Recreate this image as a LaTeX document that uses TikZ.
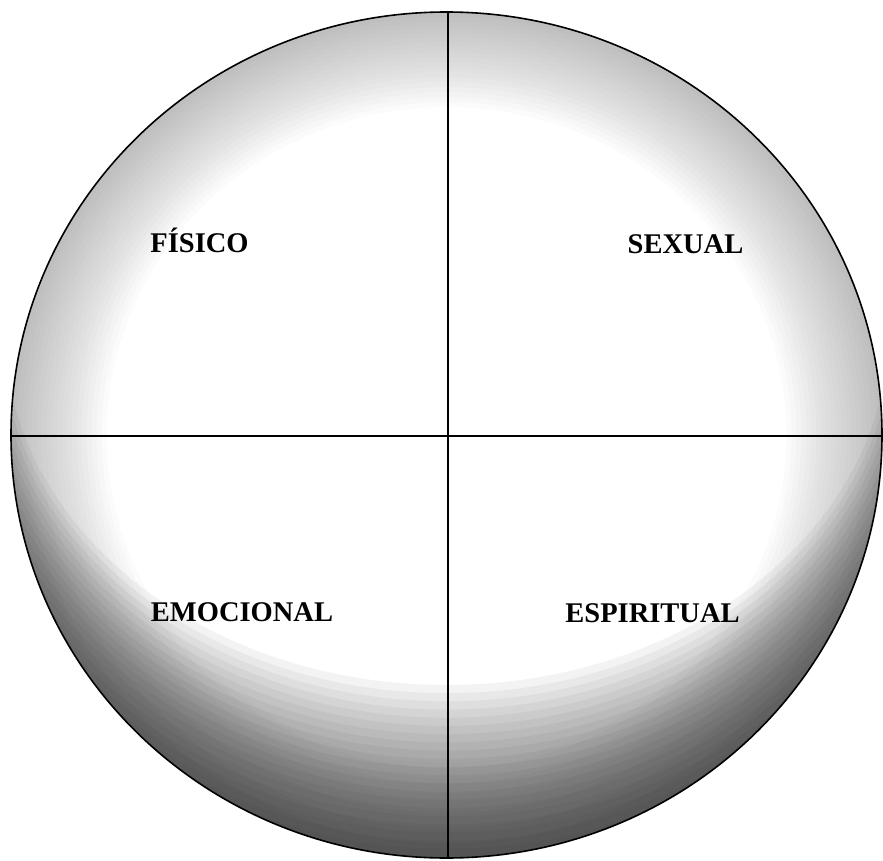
\documentclass[tikz,border=0pt]{standalone}
\usepackage{fontspec}
\setmainfont{Liberation Serif}
\tikzset{
  rimline/.style={line width=1.6pt, black},
  crossline/.style={line width=1.8pt, black},
  stipple/.style={fill=black!85, fill opacity=#1, even odd rule},
  quadlabel/.style={inner sep=0pt, anchor=base, font=\fontsize{28.5}{30}\selectfont\bfseries}
}
\begin{document}
\begin{tikzpicture}[x=1pt,y=-1pt]
\useasboundingbox (0,0) rectangle (883,861);
\fill[white] (0,0) rectangle (883,861);
\coordinate (c) at (446.5,435);
\begin{scope}
  \clip (c) ellipse [x radius=435.5pt, y radius=423pt];
  % light rim all round
  \foreach \k in {0,...,19}{
    \pgfmathsetmacro{\rx}{340+5*\k}
    \pgfmathsetmacro{\ry}{328+5*\k}
    \fill[stipple=0.017] (-20,-20) rectangle (903,881) (c) ellipse [x radius=\rx pt, y radius=\ry pt];
  }
  % darker lower part
  \foreach \k in {0,...,23}{
    \pgfmathsetmacro{\rx}{442+4.3*\k}
    \pgfmathsetmacro{\ry}{355+8.2*\k}
    \fill[stipple=0.05] (-20,-20) rectangle (903,881) (446.5,330) ellipse [x radius=\rx pt, y radius=\ry pt];
  }
\end{scope}
\draw[rimline] (c) ellipse [x radius=435.5pt, y radius=423pt];
\coordinate (top) at (448,12.5);
\coordinate (bottom) at (448,857.5);
\coordinate (left) at (11,436);
\coordinate (right) at (882,436);
\draw[crossline] (top) -- (bottom);
\draw[crossline] (left) -- (right);
\node[quadlabel] (fisico) at (199.5,252) {FÍSICO};
\node[quadlabel] (sexual) at (685.5,253) {SEXUAL};
\node[quadlabel] (emocional) at (242,621) {EMOCIONAL};
\node[quadlabel] (espiritual) at (652.5,622) {ESPIRITUAL};
\end{tikzpicture}
\end{document}
